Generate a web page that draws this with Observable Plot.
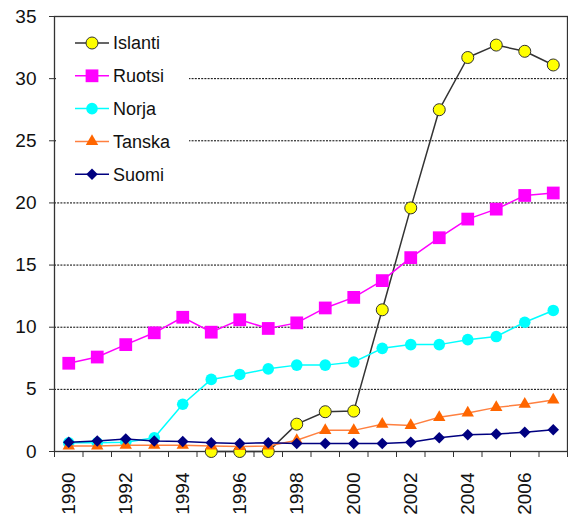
<!DOCTYPE html>
<html>
<head>
<meta charset="utf-8">
<script src="https://cdn.jsdelivr.net/npm/d3@7"></script>
<script src="https://cdn.jsdelivr.net/npm/@observablehq/plot@0.6"></script>
<style>
  html, body { margin: 0; padding: 0; background: #fff; }
  #chart { position: relative; width: 568px; height: 515px; overflow: hidden; }
  svg { font-family: Arial, "Liberation Sans", sans-serif; }
</style>
</head>
<body>
<div id="chart"></div>
<script>
const years = [1990,1991,1992,1993,1994,1995,1996,1997,1998,1999,2000,2001,2002,2003,2004,2005,2006,2007];
const islanti = [null,null,null,null,null,0,0,0,2.2,3.2,3.25,11.4,19.6,27.5,31.7,32.7,32.2,31.1];
const ruotsi  = [7.1,7.6,8.6,9.55,10.8,9.6,10.6,9.9,10.35,11.55,12.4,13.75,15.6,17.2,18.7,19.5,20.6,20.8];
const norja   = [0.7,0.7,0.75,1.1,3.8,5.8,6.2,6.65,6.95,6.95,7.2,8.3,8.6,8.6,9.0,9.25,10.4,11.35];
const tanska  = [0.45,0.45,0.5,0.5,0.5,0.45,0.4,0.45,0.9,1.7,1.7,2.2,2.1,2.75,3.1,3.55,3.8,4.15];
const suomi   = [0.75,0.85,1.0,0.85,0.8,0.7,0.65,0.7,0.65,0.65,0.65,0.65,0.75,1.1,1.35,1.4,1.55,1.75];

const seriesNames = ["Islanti","Ruotsi","Norja","Tanska","Suomi"];
const yTicks = [0,5,10,15,20,25,30,35];
const xLabelYears = [1990,1992,1994,1996,1998,2000,2002,2004,2006];

const styles = {
  Islanti: {line: "#333333", fill: "#FFFF00", stroke: "#333333", symbol: "circle", r: 6},
  Ruotsi:  {line: "#FF00FF", fill: "#FF00FF", stroke: "none", symbol: "square", r: 7.2},
  Norja:   {line: "#00FFFF", fill: "#00FFFF", stroke: "none", symbol: "circle", r: 5.8},
  Tanska:  {line: "#FF8040", fill: "#FF6600", stroke: "none", symbol: "triangle", r: 4.6},
  Suomi:   {line: "#000080", fill: "#000080", stroke: "none", symbol: "diamond2", r: 5.2}
};

const valuesBy = {Islanti: islanti, Ruotsi: ruotsi, Norja: norja, Tanska: tanska, Suomi: suomi};
const rows = [];
for (const name of seriesNames) {
  years.forEach((yr, i) => {
    const v = valuesBy[name][i];
    if (v !== null) rows.push({series: name, year: yr, value: v});
  });
}
const boundaries = [years[0] - 0.5, ...years.map(y => y + 0.5)];

const marks = [
  Plot.gridY(yTicks.filter(t => t > 0 && t < 35), {stroke: "#000", strokeOpacity: 1, strokeDasharray: "2,1.2", strokeWidth: 1}),
  Plot.frame({stroke: "#333", strokeWidth: 1.3}),
  Plot.axisY({ticks: yTicks, tickSize: 5, tickPadding: 13, fontSize: 19, tickFormat: d => String(d), stroke: "#333", label: null}),
  Plot.axisX({ticks: boundaries, tickSize: 6, tickFormat: () => "", stroke: "#333", label: null}),
  Plot.axisX({ticks: xLabelYears, tickSize: 0, tickPadding: 21, tickRotate: -90, fontSize: 19, tickFormat: d => String(d), label: null})
];
for (const name of seriesNames) {
  const s = styles[name];
  const data = rows.filter(d => d.series === name);
  marks.push(Plot.line(data, {x: "year", y: "value", stroke: s.line, strokeWidth: 1.5}));
  marks.push(Plot.dot(data, {x: "year", y: "value", symbol: s.symbol, r: s.r, fill: s.fill, stroke: s.stroke, strokeWidth: s.stroke === "none" ? 0 : 1}));
}

const chart = Plot.plot({
  width: 568,
  height: 515,
  marginLeft: 54,
  marginRight: 1,
  marginTop: 16,
  marginBottom: 64,
  x: {domain: [years[0] - 0.5, years[years.length - 1] + 0.5], axis: null, label: null},
  y: {domain: [0, 35], axis: null, label: null},
  style: {background: "#fff", color: "#111", overflow: "visible"},
  marks
});
document.getElementById("chart").appendChild(chart);

// Legend inside the plot area (top-left)
const svg = d3.select(chart);
const lg = svg.append("g").attr("class", "legend").attr("text-anchor", "start");
lg.append("rect").attr("x", 56).attr("y", 24).attr("width", 133).attr("height", 168).attr("fill", "#fff");
const symbolMap = {circle: d3.symbolCircle, square: d3.symbolSquare, triangle: d3.symbolTriangle, diamond2: d3.symbolDiamond2};
seriesNames.forEach((name, i) => {
  const s = styles[name];
  const cy = 43 + i * 32.8;
  lg.append("line").attr("x1", 75).attr("x2", 109).attr("y1", cy).attr("y2", cy)
    .attr("stroke", s.line).attr("stroke-width", 1.5);
  lg.append("path").attr("transform", `translate(92,${cy})`)
    .attr("d", d3.symbol(symbolMap[s.symbol], s.r * s.r * Math.PI)())
    .attr("fill", s.fill).attr("stroke", s.stroke === "none" ? null : s.stroke).attr("stroke-width", 1);
  lg.append("text").attr("x", 113).attr("y", cy).attr("dy", "0.35em")
    .attr("text-anchor", "start")
    .attr("font-size", 18).attr("fill", "#111").text(name);
});
</script>
</body>
</html>
